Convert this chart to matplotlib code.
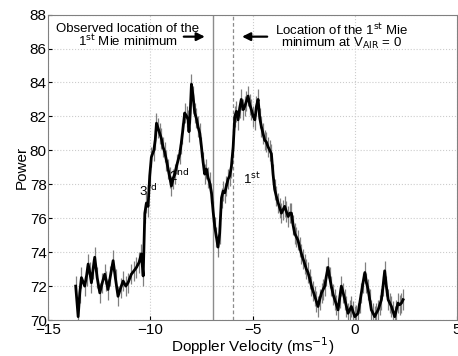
import matplotlib
matplotlib.use('Agg')
import matplotlib.pyplot as plt

plt.rcParams['font.family'] = ['Liberation Sans', 'DejaVu Sans']

# Doppler velocity (m/s) and received power
velocity = [-13.65, -13.53, -13.45, -13.37, -13.21, -13.12, -13.04, -12.96, -12.88, -12.80,
            -12.72, -12.60, -12.47, -12.35, -12.23, -12.15, -12.07, -11.95, -11.82, -11.70,
            -11.58, -11.45, -11.33, -11.20, -11.09, -10.93, -10.80, -10.68, -10.55, -10.44,
            -10.35, -10.27, -10.19, -10.11, -10.03, -9.95, -9.83, -9.76, -9.70, -9.62,
            -9.54, -9.46, -9.38, -9.30, -9.21, -9.13, -9.05, -8.97, -8.89, -8.81,
            -8.69, -8.56, -8.49, -8.43, -8.32, -8.22, -8.15, -8.11, -8.05, -7.99,
            -7.91, -7.83, -7.75, -7.67, -7.58, -7.50, -7.42, -7.34, -7.26, -7.18,
            -7.10, -7.01, -6.93, -6.85, -6.77, -6.69, -6.61, -6.52, -6.44, -6.36,
            -6.28, -6.20, -6.12, -6.04, -5.95, -5.87, -5.79, -5.71, -5.63, -5.55,
            -5.46, -5.38, -5.30, -5.22, -5.14, -5.06, -4.97, -4.89, -4.81, -4.73,
            -4.65, -4.57, -4.49, -4.41, -4.33, -4.24, -4.16, -4.08, -4.00, -3.92,
            -3.84, -3.75, -3.67, -3.59, -3.51, -3.43, -3.35, -3.26, -3.18, -3.10,
            -3.02, -2.94, -2.86, -2.78, -2.70, -2.61, -2.53, -2.45, -2.37, -2.29,
            -2.20, -2.12, -2.04, -1.96, -1.88, -1.80, -1.72, -1.63, -1.55, -1.47,
            -1.39, -1.31, -1.23, -1.15, -1.06, -0.98, -0.90, -0.82, -0.74, -0.66,
            -0.57, -0.49, -0.41, -0.33, -0.25, -0.17, -0.09, 0.00, 0.08, 0.16,
            0.24, 0.32, 0.40, 0.49, 0.57, 0.65, 0.73, 0.81, 0.89, 0.97,
            1.05, 1.14, 1.22, 1.30, 1.38, 1.46, 1.54, 1.63, 1.71, 1.79,
            1.87, 1.95, 2.03, 2.11, 2.19, 2.28, 2.36]
power = [72.0, 70.2, 71.6, 72.5, 72.0, 72.6, 73.3, 72.8, 72.2, 73.0,
         73.7, 72.5, 71.6, 72.2, 72.7, 72.3, 71.8, 72.6, 73.5, 72.4,
         71.4, 71.9, 72.3, 72.0, 72.2, 72.7, 72.9, 73.1, 73.4, 73.9,
         72.6, 76.3, 76.9, 76.7, 78.5, 79.6, 80.0, 80.6, 81.6, 81.3,
         81.0, 80.7, 80.2, 79.9, 79.4, 78.9, 78.4, 77.9, 78.3, 78.6,
         79.2, 79.8, 80.4, 81.0, 82.2, 82.0, 81.8, 81.1, 82.2, 83.9,
         83.2, 82.2, 81.9, 81.4, 81.0, 80.2, 79.3, 78.6, 78.9, 78.4,
         78.1, 77.5, 76.4, 75.5, 74.9, 74.3, 75.1, 77.2, 77.6, 77.5,
         77.9, 78.3, 78.5, 79.0, 80.2, 82.0, 82.3, 81.8, 82.5, 83.0,
         82.4, 82.6, 82.9, 83.2, 82.7, 82.4, 82.0, 81.8, 82.6, 83.0,
         81.9, 81.4, 81.0, 80.6, 80.5, 80.2, 80.0, 79.8, 78.6, 77.7,
         77.3, 76.9, 76.6, 76.3, 76.5, 76.7, 76.4, 76.1, 76.3, 76.3,
         75.6, 75.1, 74.9, 74.7, 74.3, 73.9, 73.6, 73.3, 73.0, 72.8,
         72.4, 72.0, 71.7, 71.4, 71.1, 70.8, 71.2, 71.6, 71.8, 72.0,
         72.6, 73.1, 72.5, 72.0, 71.5, 71.2, 70.9, 70.6, 71.3, 72.0,
         71.6, 71.2, 70.8, 70.4, 70.6, 70.8, 70.5, 70.2, 70.3, 70.4,
         71.0, 71.6, 72.2, 72.8, 72.2, 71.8, 71.2, 70.6, 70.4, 70.2,
         70.4, 70.6, 70.9, 71.2, 72.0, 72.9, 72.0, 71.2, 71.0, 70.8,
         70.5, 70.2, 70.6, 71.0, 70.9, 71.0, 71.2]

observed_min = -6.92   # observed location of the 1st Mie minimum
expected_min = -5.95   # 1st Mie minimum at V_AIR = 0

fig = plt.figure(figsize=(4.58, 3.56), dpi=100)
ax = fig.add_axes([0.105, 0.101, 0.893, 0.858])

ax.errorbar(velocity, power, yerr=0.6, color='black', lw=2.0,
            ecolor='0.5', elinewidth=0.9, capsize=0, zorder=3)
ax.axvline(observed_min, color='0.55', lw=1.0, zorder=2)
ax.axvline(expected_min, color='0.55', lw=0.9, ls='--', dashes=(3, 2), zorder=2)

ax.set_xlim(-15, 5)
ax.set_ylim(70, 88)
ax.set_xticks([-15, -10, -5, 0, 5])
ax.set_xticklabels(['\u221215', '\u221210', '\u22125', '0', '5'])
ax.set_yticks(range(70, 89, 2))
ax.grid(True, color='0.8', ls=':', lw=0.8)
ax.tick_params(labelsize=11, direction='in', length=3)
ax.tick_params(axis='x', pad=2)
ax.tick_params(axis='y', pad=1)
for s in ax.spines.values():
    s.set_color('0.5')

ax.set_xlabel('Doppler Velocity (ms$^{-1}$)', fontsize=11, labelpad=-1)
ax.set_ylabel('Power', fontsize=11, labelpad=1)

ax.text(-11.1, 86.75, 'Observed location of the\n1$^{\\rm st}$ Mie minimum',
        ha='center', va='center', fontsize=9.5, linespacing=0.9)
ax.annotate('', xy=(-7.2, 86.7), xytext=(-8.5, 86.7),
            arrowprops=dict(arrowstyle='-|>', color='black', lw=1.6, mutation_scale=12))
ax.text(-0.66, 86.7, 'Location of the 1$^{\\rm st}$ Mie\nminimum at V$_{\\rm AIR}$ = 0',
        ha='center', va='center', fontsize=9.5, linespacing=0.9)
ax.annotate('', xy=(-5.65, 86.7), xytext=(-4.15, 86.7),
            arrowprops=dict(arrowstyle='-|>', color='black', lw=1.6, mutation_scale=12))

ax.text(-10.1, 77.6, '3$^{\\rm rd}$', ha='center', va='center', fontsize=9.5)
ax.text(-8.6, 78.5, '2$^{\\rm nd}$', ha='center', va='center', fontsize=9.5)
ax.text(-5.05, 78.3, '1$^{\\rm st}$', ha='center', va='center', fontsize=9.5)

fig.savefig('out.png', dpi=100)
